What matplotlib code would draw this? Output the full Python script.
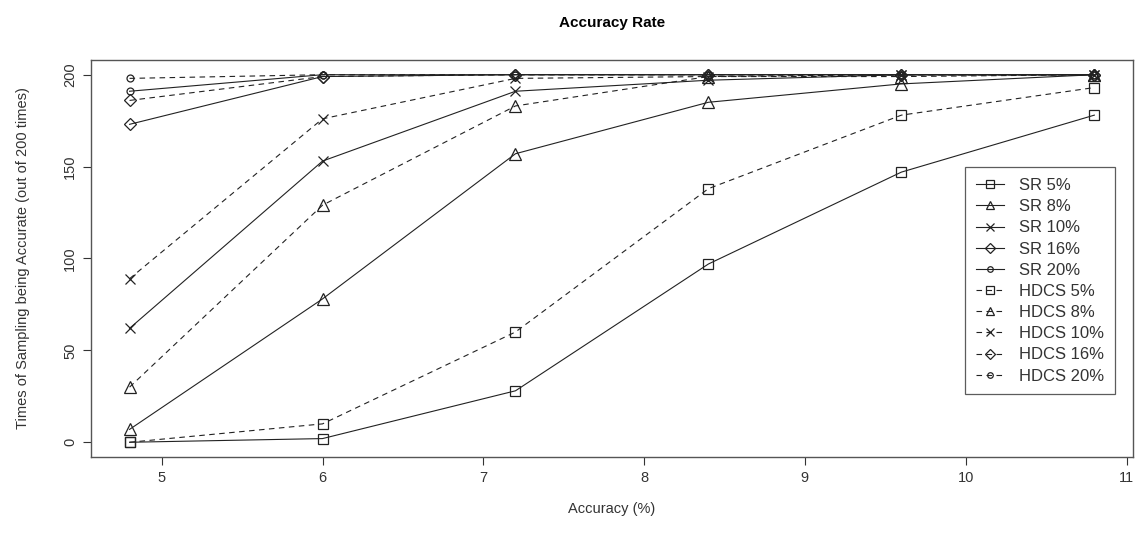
import numpy as np
import matplotlib.pyplot as plt

plt.rcParams['font.family'] = ['Liberation Sans', 'DejaVu Sans']

# data ------------------------------------------------------------------------
accuracy = [4.8, 6.0, 7.2, 8.4, 9.6, 10.8]

sr_5 = [0, 2, 28, 97, 147, 178]
sr_8 = [7, 78, 157, 185, 195, 200]
sr_10 = [62, 153, 191, 197, 200, 200]
sr_16 = [173, 199, 200, 200, 200, 200]
sr_20 = [191, 200, 200, 200, 200, 200]

hdcs_5 = [0, 10, 60, 138, 178, 193]
hdcs_8 = [30, 129, 183, 199, 199, 200]
hdcs_10 = [89, 176, 198, 199, 200, 200]
hdcs_16 = [186, 199, 200, 200, 200, 200]
hdcs_20 = [198, 200, 200, 200, 200, 200]

labels = ["SR 5%", "SR 8%", "SR 10%", "SR 16%", "SR 20%",
          "HDCS 5%", "HDCS 8%", "HDCS 10%", "HDCS 16%", "HDCS 20%"]
series = [sr_5, sr_8, sr_10, sr_16, sr_20,
          hdcs_5, hdcs_8, hdcs_10, hdcs_16, hdcs_20]

#marker styles (R pch 0, 2, 4, 5, 1)
markers = ['s', '^', 'x', 'D', 'o']
msizes = [7, 8, 7, 6.5, 5]

#plot -------------------------------------------------------------------------
fig = plt.figure(figsize=(11.4, 5.44), dpi=100)
ax = fig.add_axes([0.0798, 0.16, 0.914, 0.7297])

for i, (vals, lab) in enumerate(zip(series, labels)):
    k = i % 5
    ls = '-' if i < 5 else (0, (5, 4))
    ax.plot(accuracy, vals, linestyle=ls, color='#222222', linewidth=0.8,
            marker=markers[k], markersize=msizes[k], markerfacecolor='none',
            markeredgecolor='#222222', markeredgewidth=0.9, label=lab)

ax.set_xlim(4.56, 11.04)
ax.set_ylim(-8, 208)
ax.set_xticks([5, 6, 7, 8, 9, 10, 11])
ax.set_yticks([0, 50, 100, 150, 200])
ax.tick_params(axis='both', direction='out', length=6, width=0.8,
               labelsize=10.5, colors='#333333', pad=4)
for t in ax.get_yticklabels():
    t.set_rotation(90)
    t.set_va('center')
for s in ax.spines.values():
    s.set_color('#555555')
    s.set_linewidth(1.0)

ax.set_title("Accuracy Rate", fontsize=11, fontweight='bold', pad=24)
ax.set_xlabel("Accuracy (%)", fontsize=10.5, color='#333333', labelpad=12)
ax.set_ylabel("Times of Sampling being Accurate (out of 200 times)",
              fontsize=10.5, color='#333333', labelpad=24)

leg = ax.legend(loc='upper right', bbox_to_anchor=(0.983, 0.73), fontsize=12,
                frameon=True, fancybox=False, edgecolor='#333333',
                handlelength=1.7, labelspacing=0.37, borderpad=0.65,
                handletextpad=0.9, borderaxespad=0, markerscale=0.8)
leg.get_frame().set_linewidth(0.9)
for t in leg.get_texts():
    t.set_color('#333333')

plt.savefig("out.png", dpi=100)
plt.close()
